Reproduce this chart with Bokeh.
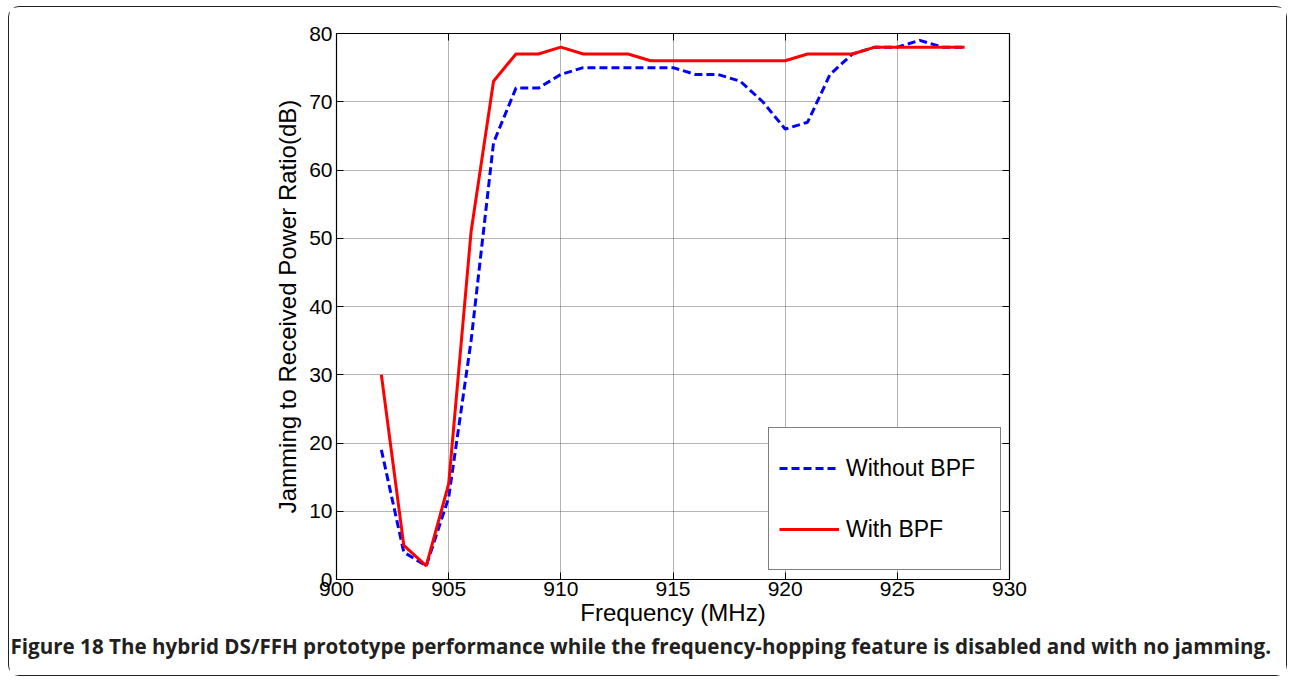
from bokeh.plotting import figure
from bokeh.models import Legend, LegendItem, LinearAxis, Title, FixedTicker, Range1d
from bokeh.embed import file_html
from bokeh.resources import INLINE

freq = [902, 903, 904, 905, 906, 907, 908, 909, 910, 911, 912, 913, 914, 915,
        916, 917, 918, 919, 920, 921, 922, 923, 924, 925, 926, 927, 928]
without_bpf = [19, 4, 2, 12, 35, 64, 72, 72, 74, 75, 75, 75, 75, 75,
               74, 74, 73, 70, 66, 67, 74, 77, 78, 78, 79, 78, 78]
with_bpf = [30, 5, 2, 14, 51, 73, 77, 77, 78, 77, 77, 77, 76, 76,
            76, 76, 76, 76, 76, 77, 77, 77, 78, 78, 78, 78, 78]
x_ticks = [900, 905, 910, 915, 920, 925, 930]
y_ticks = [0, 10, 20, 30, 40, 50, 60, 70, 80]
x_label = "Frequency (MHz)"
y_label = "Jamming to Received Power Ratio(dB)"
series_names = ["Without BPF", "With BPF"]
caption = ("Figure 18 The hybrid DS/FFH prototype performance while the "
           "frequency-hopping feature is disabled and with no jamming.")

W, H = 1279, 670
p = figure(width=W, height=H, output_backend="svg", toolbar_location=None,
           x_range=Range1d(900, 930), y_range=Range1d(0, 80),
           min_border_left=327, min_border_top=26, min_border_right=W - 1000,
           min_border_bottom=H - 572)
p.styles = {"border": "1px solid #222", "border-radius": "11px",
            "margin": "6px 0px 0px 8px"}
p.outline_line_color = "black"
p.outline_line_width = 1.2

FONT = "Liberation Sans"
for ax in (p.xaxis[0], p.yaxis[0]):
    ax.major_label_text_font = FONT
    ax.major_label_text_font_size = "21px"
    ax.major_label_text_color = "black"
    ax.axis_label_text_font = FONT
    ax.axis_label_text_font_size = "24px"
    ax.axis_label_text_font_style = "normal"
    ax.axis_label_text_color = "black"
    ax.major_tick_in = 7
    ax.major_tick_out = 0
    ax.minor_tick_line_color = None
    ax.axis_line_color = "black"
    ax.major_tick_line_color = "black"

p.xaxis[0].ticker = FixedTicker(ticks=x_ticks)
p.yaxis[0].ticker = FixedTicker(ticks=y_ticks)
p.xaxis[0].axis_label = x_label
p.yaxis[0].axis_label = y_label
p.xaxis[0].major_label_standoff = 2
p.yaxis[0].major_label_standoff = 4
p.xaxis[0].axis_label_standoff = 0
p.yaxis[0].axis_label_standoff = 5

top = LinearAxis(ticker=FixedTicker(ticks=x_ticks),
                 major_label_overrides={t: "" for t in x_ticks},
                 major_tick_in=7, major_tick_out=0, minor_tick_line_color=None)
right = LinearAxis(ticker=FixedTicker(ticks=y_ticks),
                   major_label_overrides={t: "" for t in y_ticks},
                   major_tick_in=7, major_tick_out=0, minor_tick_line_color=None)
p.add_layout(top, "above")
p.add_layout(right, "right")

p.xgrid.ticker = FixedTicker(ticks=x_ticks)
p.ygrid.ticker = FixedTicker(ticks=y_ticks)
for g in (p.xgrid, p.ygrid):
    g.grid_line_color = "#444444"
    g.grid_line_dash = "1 1"
    g.grid_line_width = 1
    g.grid_line_alpha = 0.8

r_blue = p.line(freq, without_bpf, line_color="#0000ff", line_width=3, line_dash="8 4")
r_red = p.line(freq, with_bpf, line_color="#ff0000", line_width=3)

legend = Legend(items=[LegendItem(label=series_names[0], renderers=[r_blue]),
                       LegendItem(label=series_names[1], renderers=[r_red])],
                location=(432, 9), glyph_width=60, glyph_height=60, spacing=1,
                padding=10, margin=0, label_standoff=7, label_width=144,
                label_text_font=FONT, label_text_font_size="23px",
                label_text_color="black",
                border_line_color="black", border_line_width=1,
                background_fill_color="white", background_fill_alpha=1)
p.add_layout(legend, "center")

cap = Title(text=caption, align="left", offset=-326, standoff=3,
            text_font="Open Sans", text_font_style="bold", text_font_size="20.6px",
            text_color="#231f20")
p.add_layout(cap, "below")

open("out.html", "w").write(file_html(p, INLINE))
